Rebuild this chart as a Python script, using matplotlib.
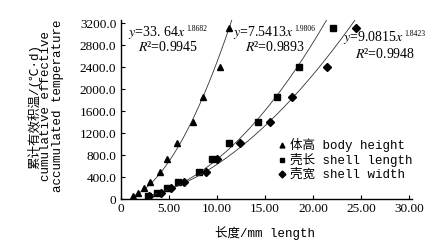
import numpy as np
import matplotlib
matplotlib.use("Agg")
import matplotlib.pyplot as plt

plt.rcParams['mathtext.fontset'] = 'stix'

# shared accumulated temperature values (C*d)
temp = [60, 120, 213, 318, 490, 735, 1020, 1400, 1858, 2400, 3105]
# lengths (mm)
body_height = [1.33, 1.85, 2.47, 3.06, 4.1, 4.86, 5.9, 7.5, 8.6, 10.3, 11.3]
shell_length = [2.9, 3.8, 4.86, 6.0, 8.15, 9.47, 11.27, 14.3, 16.25, 18.5, 22.1]
shell_width = [3.0, 4.2, 5.2, 6.6, 8.85, 10.05, 12.4, 15.55, 17.8, 21.4, 24.45]

# fitted power curves y = a * x^b
fit_a = [33.64, 7.5413, 9.0815]
fit_b = [1.8682, 1.9806, 1.8423]
fit_r2 = ["0.9945", "0.9893", "0.9948"]
fit_a_txt = ["33. 64", "7.5413", "9.0815"]

xticks = [0, 5, 10, 15, 20, 25, 30]
xtick_labels = ["0", "5.00", "10.00", "15.00", "20.00", "25.00", "30.00"]
yticks = [0, 400, 800, 1200, 1600, 2000, 2400, 2800, 3200]
ytick_labels = ["0", "400.0", "800.0", "1200.0", "1600.0", "2000.0", "2400.0", "2800.0", "3200.0"]

legend_labels = ["体高 body height", "壳长 shell length", "壳宽 shell width"]
mixed = ['Liberation Mono', 'Noto Sans CJK SC']

fig = plt.figure(figsize=(4.43, 2.48), dpi=100)
W, H = 443, 248
ax = fig.add_axes([120.5 / W, 1 - 199.3 / H, 291.8 / W, 179.6 / H])

series = [body_height, shell_length, shell_width]
markers = ['^', 's', 'D']
msizes = [4.5, 3.8, 3.6]
handles = []
for xs, a, b, m, ms in zip(series, fit_a, fit_b, markers, msizes):
    xmax = (3260 / a) ** (1 / b)
    xc = np.linspace(min(xs), xmax, 200)
    ax.plot(xc, a * xc ** b, color='#333333', lw=0.6)
    h, = ax.plot(xs, temp, ls='none', marker=m, ms=ms, color='black')
    handles.append(h)

ax.set_xlim(0, 30.3)
ax.set_ylim(0, 3260)

# equation labels, exponent drawn as its own small text
renderer = fig.canvas.get_renderer()
eq_pos = [(0.8, 3030, 1.8, 2770), (11.68, 3030, 12.95, 2770), (23.1, 2945, 24.35, 2640)]
for (x1, y1, x2, y2), at, b, r2 in zip(eq_pos, fit_a_txt, fit_b, fit_r2):
    t = ax.text(x1, y1, r'$y$=' + at + r'$x$', fontsize=10,
                family='Liberation Serif', va='center', ha='left')
    bb = t.get_window_extent(renderer)
    ax.annotate(str(b), xy=(bb.x1, bb.y1), xycoords='figure pixels',
                xytext=(0.3, -1), textcoords='offset points',
                fontsize=5.5, family='Liberation Serif', va='top', ha='left')
    ax.text(x2, y2, r'$R$' + '\u00b2=' + r2, fontsize=10,
            family='Liberation Serif', va='center', ha='left')

ax.set_xticks(xticks)
ax.set_xticklabels(xtick_labels, family='Liberation Serif', fontsize=9.5)
ax.set_yticks(yticks)
ax.set_yticklabels(ytick_labels, family='Liberation Serif', fontsize=9.5)
ax.tick_params(direction='in', length=3, width=0.8, pad=3)
for s in ['top', 'right']:
    ax.spines[s].set_visible(False)
for s in ['left', 'bottom']:
    ax.spines[s].set_linewidth(1.0)

leg = ax.legend(handles, legend_labels, loc='upper left', bbox_to_anchor=(0.52, 0.375),
                frameon=False, handlelength=0.6, handletextpad=0.3, labelspacing=0.1,
                borderpad=0, prop={'family': mixed, 'size': 9})
for h in leg.legend_handles:
    h.set_markersize(3.5)

# axis labels
fig.text(265 / W, 1 - 233 / H, "长度/mm length", family=mixed, fontsize=9,
         ha='center', va='center')
ylines = ["累计有效积温/(℃·d)", "cumulative effective", "accumulated temperature"]
for xp, t in zip([34, 46, 58], ylines):
    fig.text(xp / W, 1 - 106 / H, t, family=mixed, fontsize=9, rotation=90,
             ha='center', va='center')

fig.savefig("out.png", dpi=100)
